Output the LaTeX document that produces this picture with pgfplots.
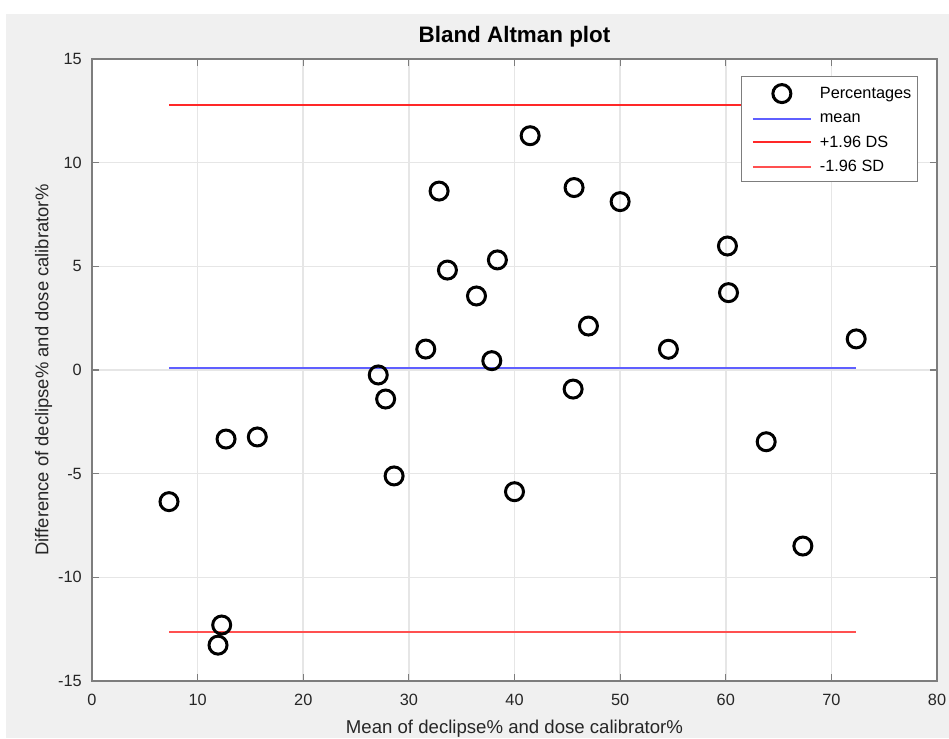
\documentclass[border=0pt]{standalone}
\usepackage{pgfplots}
\pgfplotsset{compat=1.18}
\usepackage{fontspec}
\setmainfont{Liberation Sans}
\definecolor{figbg}{RGB}{240,240,240}
\definecolor{axgray}{RGB}{125,125,125}
\definecolor{gridgray}{RGB}{230,230,230}
\definecolor{meanblue}{RGB}{95,95,255}
\definecolor{upred}{RGB}{255,40,40}
\definecolor{lored}{RGB}{255,80,80}
\pgfplotsset{
  mymarklegend/.style={legend image code/.code={\path[draw=none] (0pt,0pt) -- (72pt,0pt); \draw[##1] plot coordinates {(37pt,0pt)};}},
  mylinelegend/.style={legend image code/.code={\path[draw=none] (0pt,0pt) -- (72pt,0pt); \draw[##1] (8pt,0pt) -- (66pt,0pt);}},
}
\begin{document}
\begin{tikzpicture}
\useasboundingbox (-92pt,-57pt) rectangle (857pt,681pt);
\fill[white] (-92pt,-57pt) rectangle (857pt,681pt);
\fill[figbg] (-86pt,-57pt) rectangle (857pt,667pt);
\begin{axis}[
  at={(0pt,0pt)}, anchor=south west,
  scale only axis, width=845pt, height=622pt,
  xmin=0, xmax=80, ymin=-15, ymax=15,
  xtick={0,10,...,80}, ytick={-15,-10,...,15},
  axis background/.style={fill=white},
  axis line style={draw=axgray, line width=1.4pt},
  every tick/.style={draw=axgray, line width=1.2pt},
  tick align=inside, major tick length=7pt,
  grid=major, major grid style={draw=gridgray, line width=1.6pt},
  /pgf/number format/assume math mode=true,
  tick label style={font=\fontsize{16.3}{19}\selectfont, text=black!85},
  xticklabel style={anchor=north, inner sep=0pt, yshift=-13pt},
  yticklabel style={anchor=east, inner sep=0pt, xshift=-10pt},
  title={Bland Altman plot},
  title style={at={(axis description cs:0.5,1)}, anchor=base, yshift=10pt, font=\fontsize{22.4}{26}\selectfont\bfseries, inner sep=0pt},
  xlabel={Mean of declipse\% and dose calibrator\%},
  xlabel style={at={(axis description cs:0.5,0)}, anchor=base, yshift=-52pt, font=\fontsize{18.6}{22}\selectfont, text=black!85, inner sep=0pt},
  ylabel={Difference of declipse\% and dose calibrator\%},
  ylabel style={at={(axis description cs:-0.0515,0.5)}, anchor=base, font=\fontsize{18.4}{22}\selectfont, text=black!85, inner sep=0pt},
  legend style={at={(rel axis cs:1,1)}, anchor=north east, xshift=-19pt, yshift=-17pt,
    draw=axgray, line width=1.2pt, fill=white, font=\fontsize{16.3}{19}\selectfont,
    row sep=11.5pt, inner xsep=3pt, inner ysep=8pt, nodes={inner xsep=3pt, inner ysep=0pt}},
  legend cell align=left,
]
\addplot[only marks, mark=o, mark size=9pt, line width=3pt, draw=black, mymarklegend]
  table {
x y
7.29 -6.35
12.69 -3.33
15.65 -3.23
12.28 -12.30
11.93 -13.27
27.10 -0.24
27.80 -1.40
28.60 -5.11
31.60 1.01
32.86 8.63
33.65 4.82
36.40 3.57
37.85 0.45
38.38 5.31
40.00 -5.87
41.48 11.30
45.55 -0.92
45.64 8.80
47.00 2.12
50.00 8.12
54.57 1.00
60.16 5.98
60.26 3.73
63.83 -3.46
67.30 -8.49
72.35 1.50
};
\addlegendentry{Percentages}
\addplot[draw=meanblue, line width=2pt, no marks, mylinelegend] coordinates {(7.29,0.08) (72.35,0.08)};
\addlegendentry{mean}
\addplot[draw=upred, line width=1.7pt, no marks, mylinelegend] coordinates {(7.29,12.78) (72.35,12.78)};
\addlegendentry{+1.96 DS}
\addplot[draw=lored, line width=1.7pt, no marks, mylinelegend] coordinates {(7.29,-12.64) (72.35,-12.64)};
\addlegendentry{-1.96 SD}
\end{axis}
\end{tikzpicture}
\end{document}
